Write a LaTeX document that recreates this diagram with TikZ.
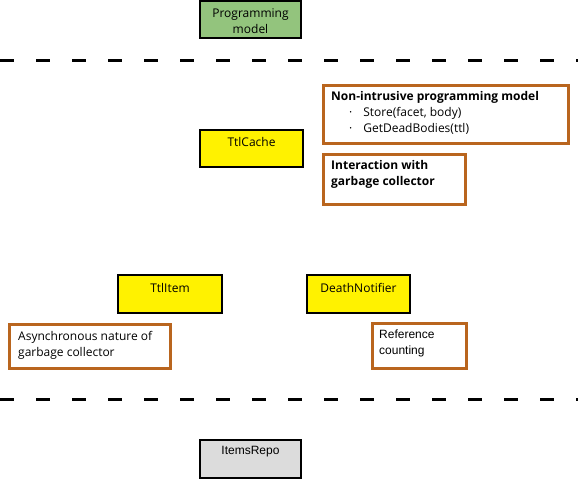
\documentclass[tikz,border=0pt]{standalone}
\usepackage{fontspec}
\setmainfont{Open Sans}
\newfontfamily\tahomafont{Liberation Sans}

\definecolor{modelgreen}{HTML}{93C47D}
\definecolor{notebrown}{HTML}{B9651E}
\definecolor{repogray}{HTML}{DCDCDC}

\tikzset{
  layerline/.style={line width=3pt, dash pattern=on 14pt off 22pt},
  classbox/.style={draw=black, line width=2.5pt, fill=yellow},
  notebox/.style={draw=notebrown, line width=3pt, fill=white},
  boxtext/.style={inner sep=0pt, font=\fontsize{12}{16}\selectfont, align=center},
  notetext/.style={inner sep=0pt, anchor=north west, font=\fontsize{12}{16}\selectfont, align=left}
}

\begin{document}
\begin{tikzpicture}[x=1pt,y=-1pt]
\useasboundingbox (0,0) rectangle (578,479);

% layers
\draw[layerline] (0,60)--(578,60);
\draw[layerline] (0,399)--(578,399);

% top: programming model
\draw[draw=black, line width=2.5pt, fill=modelgreen] (200,1) rectangle (301,38);
\node[boxtext] (model) at (250.5,21) {Programming\\model};

% TtlCache and its notes
\draw[classbox] (200,130) rectangle (303,167);
\node[boxtext] (cache) at (251.5,142) {TtlCache};

\draw[notebox] (323,85) rectangle (568,143);
\node[notetext] (nonintrusive) at (331,91) {\bfseries Non-intrusive programming model\\
  \hspace*{18pt}·\hspace{11pt}Store(facet, body)\\
  \hspace*{18pt}·\hspace{11pt}GetDeadBodies(ttl)};

\draw[notebox] (323,154) rectangle (465,204);
\node[notetext] (gcinteraction) at (331,160) {\bfseries Interaction with\\\bfseries garbage collector};

% TtlItem and DeathNotifier
\draw[classbox] (118,275) rectangle (222,313);
\node[boxtext] (item) at (170,288) {TtlItem};

\draw[classbox] (307,275) rectangle (410,313);
\node[boxtext] (notifier) at (358.5,288) {DeathNotifier};

\draw[notebox] (9,324) rectangle (170,368);
\node[notetext] (async) at (18,331) {Asynchronous nature of\\garbage collector};

\draw[notebox] (372,323) rectangle (466,368);
\node[notetext, font=\tahomafont\fontsize{12}{16}\selectfont] (refcount) at (379,330) {Reference\\counting};

% bottom: repository
\draw[draw=black, line width=2.5pt, fill=repogray] (200,440) rectangle (301,478);
\node[boxtext, font=\tahomafont\fontsize{12}{16}\selectfont] (repo) at (250.5,452) {ItemsRepo};
\end{tikzpicture}
\end{document}
